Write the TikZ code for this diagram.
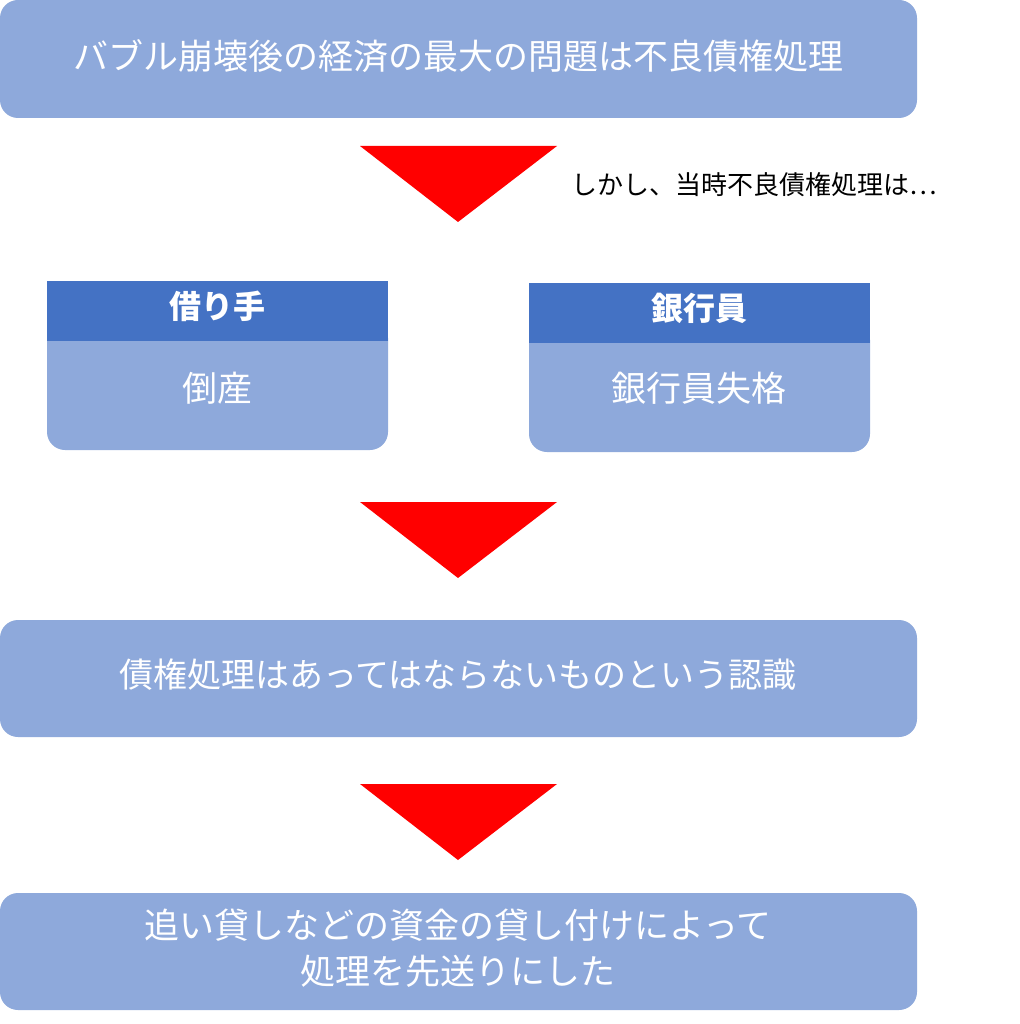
\documentclass[tikz,border=0pt]{standalone}
\usepackage{fontspec}
\setmainfont{Noto Sans CJK JP}
\begin{document}
\begin{tikzpicture}[x=1pt,y=-1pt,
  box/.style={fill=lb,rounded corners=18pt},
  tri/.style={fill=red},
  wt/.style={text=white,font=\fontsize{35}{44}\selectfont,align=center}]
\definecolor{lb}{HTML}{8EA9DB}
\definecolor{db}{HTML}{4472C4}
\useasboundingbox (0,0) rectangle (1019,1024);
\fill[box] (0,0) rectangle (917,118);
\node[wt] (t1) at (458,56) {バブル崩壊後の経済の最大の問題は不良債権処理};
\fill[tri] (360,146) -- (557,146) -- (458,222) -- cycle;
\node[font=\fontsize{26}{30}\selectfont,anchor=west] (c) at (568,185) {しかし、当時不良債権処理は…};
% left
\fill[lb,rounded corners=18pt] (47,320) -- (47,450) -- (388,450) -- (388,320) -- cycle;
\fill[lb] (47,320) rectangle (388,400);
\fill[db] (47,281) rectangle (388,341);
\node[wt,font=\bfseries\fontsize{32}{40}\selectfont] (lh) at (217,306) {借り手};
\node[wt] (lb1) at (217,388) {倒産};
% right
\fill[lb,rounded corners=18pt] (529,322) -- (529,452) -- (870,452) -- (870,322) -- cycle;
\fill[lb] (529,322) rectangle (870,400);
\fill[db] (529,283) rectangle (870,343);
\node[wt,font=\bfseries\fontsize{32}{40}\selectfont] (rh) at (699,308) {銀行員};
\node[wt] (rb1) at (699,388) {銀行員失格};
\fill[tri] (360,502) -- (557,502) -- (458,578) -- cycle;
\fill[box] (0,620) rectangle (917,737);
\node[wt,font=\fontsize{34}{42}\selectfont] (t3) at (458,675) {債権処理はあってはならないものという認識};
\fill[tri] (360,784) -- (557,784) -- (458,860) -- cycle;
\fill[box] (0,893) rectangle (917,1010);
\node[wt,font=\fontsize{35}{46}\selectfont] (t4) at (458,948) {追い貸しなどの資金の貸し付けによって\\処理を先送りにした};
\end{tikzpicture}
\end{document}
